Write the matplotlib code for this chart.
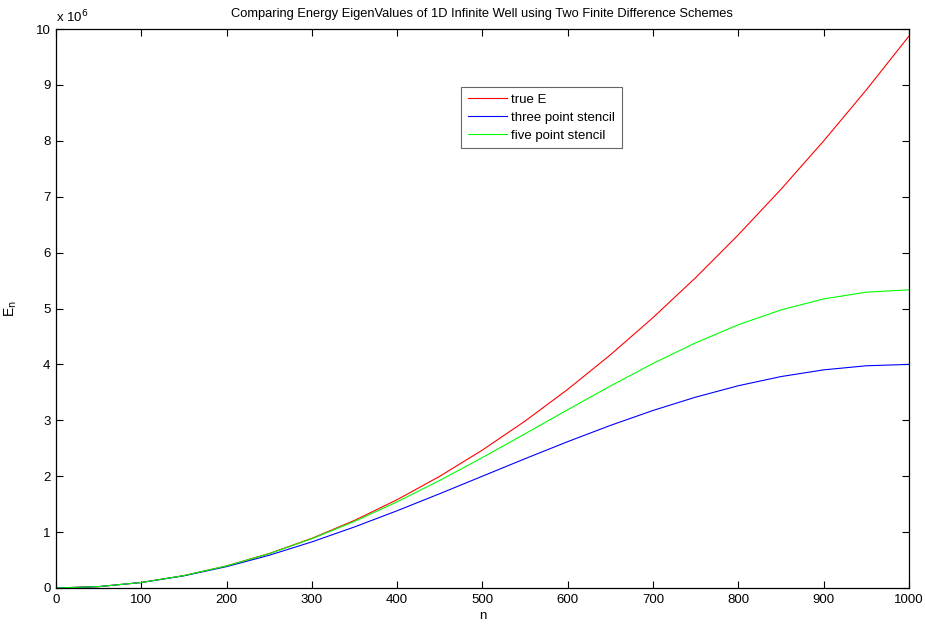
import matplotlib
matplotlib.use("Agg")
import matplotlib.pyplot as plt
from matplotlib.ticker import FuncFormatter

plt.rcParams['font.family'] = ['Liberation Sans', 'DejaVu Sans']
plt.rcParams['font.size'] = 9.5

n_vals = [0, 50, 100, 150, 200, 250, 300, 350, 400, 450, 500, 550, 600,
          650, 700, 750, 800, 850, 900, 950, 1000]
true_E = [0.0, 0.024674, 0.098696, 0.222066, 0.394784, 0.616850, 0.888264,
          1.209027, 1.579137, 1.998595, 2.467401, 2.985555, 3.553058,
          4.169908, 4.836106, 5.551652, 6.316547, 7.130790, 7.994380,
          8.907319, 9.869604]
three_pt = [0.0, 0.024623, 0.097887, 0.217987, 0.381966, 0.585786, 0.824429,
            1.092019, 1.381966, 1.687132, 2.000000, 2.312868, 2.618034,
            2.907981, 3.175571, 3.414214, 3.618034, 3.782013, 3.902113,
            3.975377, 4.000000]
five_pt = [0.0, 0.024674, 0.098685, 0.221947, 0.394124, 0.614382, 0.881069,
           1.191395, 1.541119, 1.924333, 2.333333, 2.758648, 3.189209,
           3.612677, 4.015926, 4.385618, 4.708881, 4.973981, 5.170986,
           5.292345, 5.333333]
scale = 1e6
labels = ['true E', 'three point stencil', 'five point stencil']
colors = ['#ff0000', '#0000ff', '#00ff00']

fig = plt.figure(figsize=(9.25, 6.25), dpi=100)
ax = fig.add_axes([0.0605, 0.0592, 0.922, 0.8944])

for ys, lab, c in zip([true_E, three_pt, five_pt], labels, colors):
    ax.plot(n_vals, [v * scale for v in ys], color=c, lw=0.8, label=lab)

ax.set_xlim(0, 1000)
ax.set_ylim(0, 10e6)
ax.set_xticks(range(0, 1001, 100))
ax.set_yticks([i * 1e6 for i in range(11)])
ax.yaxis.set_major_formatter(FuncFormatter(lambda v, p: f"{v/1e6:g}"))
ax.tick_params(direction='in', length=5, width=0.8, labelsize=9.5, pad=4,
               top=True, right=True)
for s in ax.spines.values():
    s.set_linewidth(0.9)

ax.text(0.0, 1.006, r'x 10$^6$', transform=ax.transAxes, fontsize=9.5,
        ha='left', va='bottom')
ax.set_title('Comparing Energy EigenValues of 1D Infinite Well using Two Finite Difference Schemes',
             fontsize=9.3, pad=9)
ax.set_xlabel('n', fontsize=9.5, labelpad=3)
ax.set_ylabel(r'E$_\mathrm{n}$', fontsize=10, labelpad=12)

leg = ax.legend(loc='upper left', bbox_to_anchor=(0.475, 0.896), fontsize=9.5,
                frameon=True, fancybox=False, edgecolor='#404040',
                handlelength=3.0, handletextpad=0.3, borderpad=0.5,
                labelspacing=0.42, borderaxespad=0)
leg.get_frame().set_linewidth(0.8)

fig.savefig('out.png', dpi=100, facecolor='white')
